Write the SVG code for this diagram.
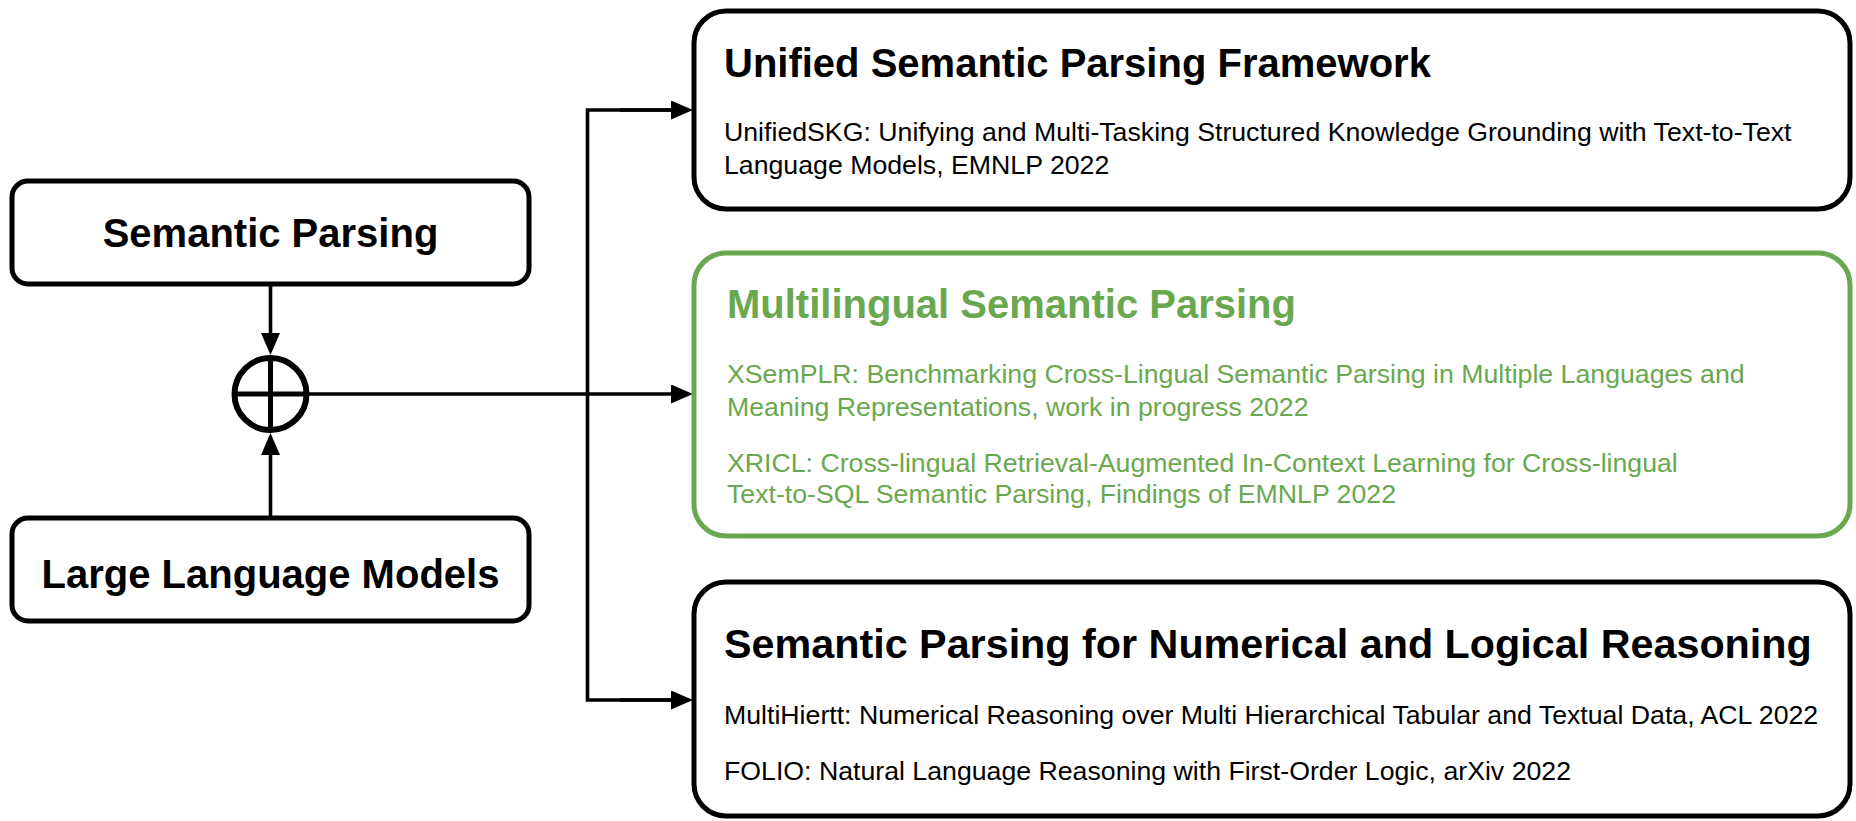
<svg xmlns="http://www.w3.org/2000/svg" width="1856" height="821" viewBox="0 0 1856 821">
  <style>
    .box { fill: #ffffff; stroke: #000000; stroke-width: 5; }
    .green { fill: #ffffff; stroke: #6aa84f; stroke-width: 5; }
    .link { fill: none; stroke: #000000; stroke-width: 3.6; }
    .head { font-family: "Liberation Sans", Arial, sans-serif; font-weight: bold; font-size: 40px; fill: #000000; }
    .head.big { font-size: 41.3px; }
    .body { font-family: "Liberation Sans", Arial, sans-serif; font-size: 26.7px; fill: #000000; }
    .g { fill: #6aa84f; }
  </style>
  <defs>
    <marker id="arrow" viewBox="0 0 22 19" refX="11" refY="9.5" markerWidth="22" markerHeight="19" markerUnits="userSpaceOnUse" orient="auto">
      <path d="M0,0 L22,9.5 L0,19 Z" fill="#000000"/>
    </marker>
  </defs>
  <rect width="1856" height="821" fill="#ffffff"/>

  <g id="connectors">
    <!-- inputs into the sum node -->
    <line class="link" x1="270.5" y1="285" x2="270.5" y2="344" marker-end="url(#arrow)"/>
    <line class="link" x1="270.5" y1="518" x2="270.5" y2="444" marker-end="url(#arrow)"/>
    <!-- sum node to the middle box -->
    <line class="link" x1="306" y1="394" x2="682" y2="394" marker-end="url(#arrow)"/>
    <!-- branch to the top and bottom boxes -->
    <path class="link" d="M682,110 H587.5 V700 H682"/>
    <line class="link" x1="620" y1="110" x2="682" y2="110" marker-end="url(#arrow)"/>
    <line class="link" x1="620" y1="700" x2="682" y2="700" marker-end="url(#arrow)"/>
  </g>

  <g id="semantic-parsing">
    <rect class="box" x="12" y="181" width="517" height="103" rx="16"/>
    <text class="head" x="270.5" y="247" text-anchor="middle">Semantic Parsing</text>
  </g>

  <g id="large-language-models">
    <rect class="box" x="12" y="518" width="517" height="103" rx="16"/>
    <text class="head" x="270.5" y="588" text-anchor="middle">Large Language Models</text>
  </g>

  <g id="sum">
    <circle cx="270.5" cy="394" r="36" fill="#ffffff" stroke="#000000" stroke-width="6"/>
    <line x1="270.5" y1="358" x2="270.5" y2="430" stroke="#000000" stroke-width="5"/>
    <line x1="234.5" y1="394" x2="306.5" y2="394" stroke="#000000" stroke-width="5"/>
  </g>

  <g id="unified">
    <rect class="box" x="694" y="11" width="1156" height="198" rx="32"/>
    <text class="head" x="724" y="77">Unified Semantic Parsing Framework</text>
    <text class="body" x="724" y="141">UnifiedSKG: Unifying and Multi-Tasking Structured Knowledge Grounding with Text-to-Text</text>
    <text class="body" x="724" y="174">Language Models, EMNLP 2022</text>
  </g>

  <g id="multilingual">
    <rect class="green" x="694" y="253" width="1156" height="283" rx="32"/>
    <text class="head g" x="727" y="318">Multilingual Semantic Parsing</text>
    <text class="body g" x="727" y="383">XSemPLR: Benchmarking Cross-Lingual Semantic Parsing in Multiple Languages and</text>
    <text class="body g" x="727" y="416">Meaning Representations, work in progress 2022</text>
    <text class="body g" x="727" y="472">XRICL: Cross-lingual Retrieval-Augmented In-Context Learning for Cross-lingual</text>
    <text class="body g" x="727" y="503">Text-to-SQL Semantic Parsing, Findings of EMNLP 2022</text>
  </g>

  <g id="reasoning">
    <rect class="box" x="694" y="582" width="1156" height="234" rx="32"/>
    <text class="head big" x="724" y="658">Semantic Parsing for Numerical and Logical Reasoning</text>
    <text class="body" x="724" y="724">MultiHiertt: Numerical Reasoning over Multi Hierarchical Tabular and Textual Data, ACL 2022</text>
    <text class="body" x="724" y="780">FOLIO: Natural Language Reasoning with First-Order Logic, arXiv 2022</text>
  </g>
</svg>
